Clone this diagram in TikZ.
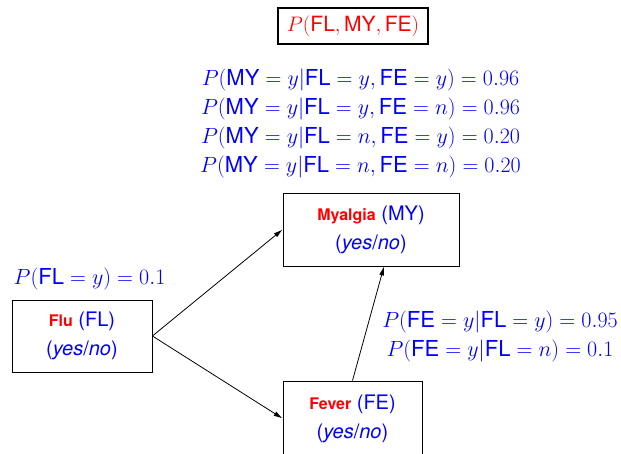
\documentclass[tikz,border=0pt]{standalone}
\usepackage{fix-cm}
\usepackage{fontspec}
\setsansfont{TeX Gyre Heros}
\usetikzlibrary{arrows.meta,calc}
\newcommand{\vn}[1]{\textsf{#1}}
\newcommand{\yesno}{(\textit{yes}/\textit{no})}
\newcommand{\lbl}[1]{{\fontsize{16}{29}\selectfont\bfseries\color{red}#1}}
\begin{document}
\begin{tikzpicture}[x=1pt,y=-1pt,
  every node/.style={font=\fontsize{22}{29}\selectfont},
  var/.style={draw=black, line width=0.8pt, align=center, text=blue,
    font=\fontsize{20}{29}\selectfont\sffamily, inner sep=0pt},
  prob/.style={text=blue, align=center, inner sep=0pt},
  link/.style={-{Latex[length=9pt,width=5pt]}, line width=0.8pt}]
\useasboundingbox (0,0) rectangle (621,454);

% joint distribution
\node[draw=black, line width=1.4pt, text=red, minimum width=150pt, minimum height=36pt,
  inner sep=0pt, font=\fontsize{21}{29}\selectfont]
  (joint) at (353,26) {$P(\vn{FL},\vn{MY},\vn{FE})$};

% conditional table of Myalgia
\node[prob] (cptmy) at (360.5,123.5) {%
  $P(\vn{MY}=y|\vn{FL}=y,\vn{FE}=y)=0.96$\\
  $P(\vn{MY}=y|\vn{FL}=y,\vn{FE}=n)=0.96$\\
  $P(\vn{MY}=y|\vn{FL}=n,\vn{FE}=y)=0.20$\\
  $P(\vn{MY}=y|\vn{FL}=n,\vn{FE}=n)=0.20$};

% prior of Flu
\node[prob] (cptfl) at (89.5,279) {$P(\vn{FL}=y)=0.1$};

% conditional table of Fever
\node[prob] (cptfe) at (500,336) {%
  $P(\vn{FE}=y|\vn{FL}=y)=0.95$\\
  $P(\vn{FE}=y|\vn{FL}=n)=0.1$};

% variables
\node[var, minimum width=176pt, minimum height=73pt] (myalgia) at (371,229.5)
  {\lbl{Myalgia} (MY)\\\yesno};
\node[var, minimum width=140pt, minimum height=72pt] (flu) at (82,336)
  {\lbl{Flu} (FL)\\\yesno};
\node[var, minimum width=139pt, minimum height=75pt] (fever) at (352.5,418.5)
  {\lbl{Fever} (FE)\\\yesno};

% links
\coordinate (mytarget) at ($(myalgia.south)+(13,0)$);
\draw[link] (flu.east) -- (myalgia.west);
\draw[link] (flu.east) -- (fever.west);
\draw[link] (fever.north) -- (mytarget);
\end{tikzpicture}
\end{document}
